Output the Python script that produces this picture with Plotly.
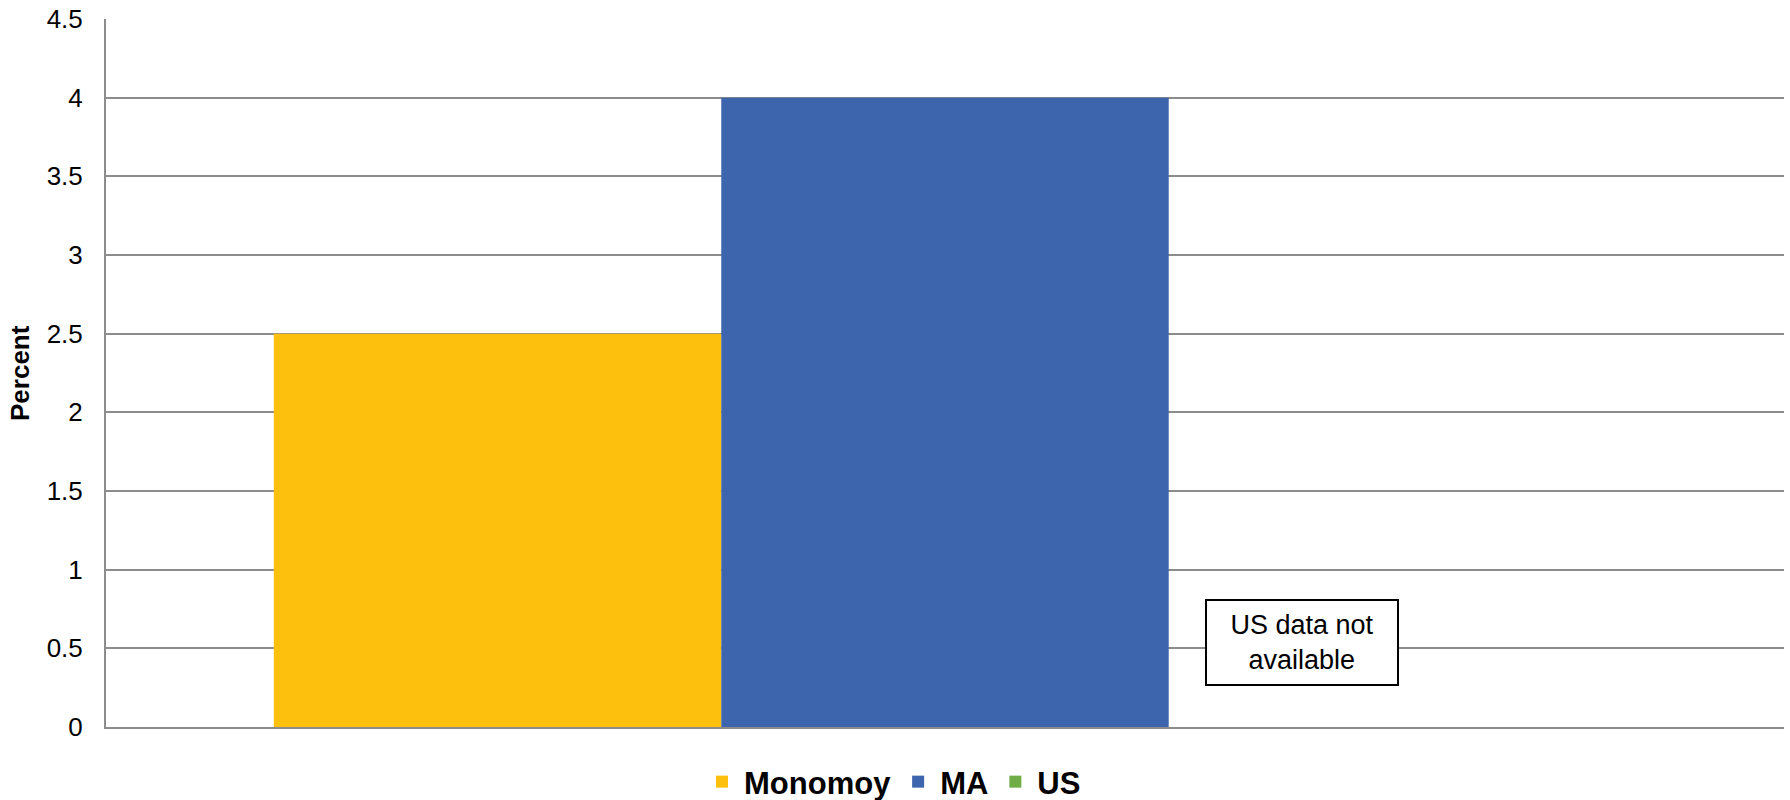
import plotly.graph_objects as go

categories = [""]
series_names = ["Monomoy", "MA", "US"]
monomoy_values = [2.5]
ma_values = [4.0]
us_values = [None]
series_colors = ["#FDC00D", "#3D65AD", "#70AD47"]
y_ticks = [0, 0.5, 1, 1.5, 2, 2.5, 3, 3.5, 4, 4.5]
y_tick_labels = ["0", "0.5", "1", "1.5", "2", "2.5", "3", "3.5", "4", "4.5"]

FONT = "Arial, Liberation Sans, sans-serif"

fig = go.Figure()
for name, vals, col in zip(series_names, [monomoy_values, ma_values, us_values], series_colors):
    fig.add_trace(go.Bar(x=categories, y=vals, name=name, marker=dict(color=col, line=dict(width=0))))

W, H = 1790, 800
L, R, T, B = 106, 6, 19, 73
pw = W - L - R
ph = H - T - B

fig.update_layout(
    width=W, height=H,
    margin=dict(l=L, r=R, t=T, b=B, autoexpand=False),
    paper_bgcolor="white", plot_bgcolor="white",
    barmode="group", bargap=0.2, bargroupgap=0,
    font=dict(family=FONT, color="black", size=26),
    showlegend=True,
    legend=dict(
        orientation="h", x=(893 - L) / pw, xanchor="center",
        y=-(782 - 727) / ph, yanchor="middle",
        font=dict(family=FONT, size=31, color="black", weight="bold"),
        itemwidth=34, traceorder="normal",
    ),
    xaxis=dict(
        showticklabels=False, showgrid=False, ticks="",
        showline=True, linecolor="#8C8C8C", linewidth=2,
    ),
    yaxis=dict(
        range=[0, 4.5], tickvals=y_ticks, ticktext=y_tick_labels,
        showgrid=True, gridcolor="#8C8C8C", gridwidth=2,
        showline=True, linecolor="#8C8C8C", linewidth=2,
        zeroline=False, ticks="", ticklabelstandoff=16,
        ticklabeloverflow="allow",
        tickfont=dict(family=FONT, size=26, color="black"),
    ),
    annotations=[
        dict(
            text="Percent", textangle=-90, xref="paper", yref="paper",
            x=(20 - L) / pw, y=0.5, xanchor="center", yanchor="middle",
            showarrow=False, font=dict(family=FONT, size=26, color="black", weight="bold"),
        ),
        dict(
            text="US data not<br>available", xref="paper", yref="y",
            x=(1302 - L) / pw, y=0.534, xanchor="center", yanchor="middle",
            showarrow=False, width=186, height=79, borderpad=2, borderwidth=2,
            bordercolor="black", bgcolor="white", align="center",
            font=dict(family=FONT, size=27, color="black"),
        ),
    ],
)

fig.write_html(
    "out.html",
    config={"displayModeBar": False},
    post_script="document.body.style.margin='0';document.body.style.padding='0';",
)
